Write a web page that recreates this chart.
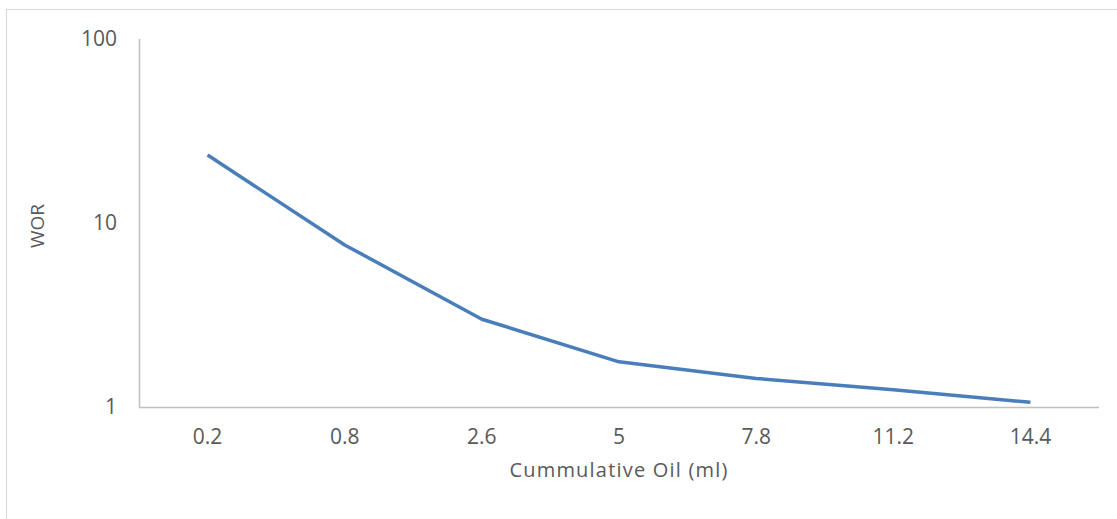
<!DOCTYPE html>
<html>
<head>
<meta charset="utf-8">
<script src="https://cdn.jsdelivr.net/npm/d3@7"></script>
<style>
  body { margin: 0; background: #fff; }
  text { font-family: 'Open Sans', 'Liberation Sans', sans-serif; fill: #595959; }
</style>
</head>
<body>
<div id="chart"></div>
<script>
const categories = ['0.2', '0.8', '2.6', '5', '7.8', '11.2', '14.4'];
const worValues = [23.4, 7.6, 3.0, 1.76, 1.43, 1.24, 1.06];
const yTicks = [1, 10, 100];

const WIDTH = 1117;
const HEIGHT = 519;
const margin = { top: 39, right: 18, bottom: 112, left: 139 };

const svg = d3
  .select('#chart')
  .append('svg')
  .attr('width', WIDTH)
  .attr('height', HEIGHT);

// chart area border (runs off the right and bottom edges)
svg
  .append('rect')
  .attr('x', 6.5)
  .attr('y', 9.5)
  .attr('width', WIDTH + 20)
  .attr('height', HEIGHT + 20)
  .attr('fill', 'none')
  .attr('stroke', '#d9d9d9');

const x = d3
  .scaleBand()
  .domain(categories)
  .range([margin.left, WIDTH - margin.right]);

const y = d3
  .scaleLog()
  .domain([1, 100])
  .range([HEIGHT - margin.bottom, margin.top]);

// axes lines
svg
  .append('line')
  .attr('x1', margin.left + 0.5)
  .attr('x2', margin.left + 0.5)
  .attr('y1', y(100))
  .attr('y2', y(1))
  .attr('stroke', '#bfbfbf')
  .attr('stroke-width', 1.5);

svg
  .append('line')
  .attr('x1', margin.left)
  .attr('x2', WIDTH - margin.right)
  .attr('y1', y(1) + 0.5)
  .attr('y2', y(1) + 0.5)
  .attr('stroke', '#bfbfbf')
  .attr('stroke-width', 1.5);

// y tick labels
svg
  .append('g')
  .selectAll('text')
  .data(yTicks)
  .enter()
  .append('text')
  .attr('x', margin.left - 22)
  .attr('y', (d) => y(d))
  .attr('dy', '0.35em')
  .attr('text-anchor', 'end')
  .attr('font-size', 21)
  .text((d) => d);

// x tick labels
svg
  .append('g')
  .selectAll('text')
  .data(categories)
  .enter()
  .append('text')
  .attr('x', (d) => x(d) + x.bandwidth() / 2)
  .attr('y', y(1) + 30)
  .attr('dy', '0.35em')
  .attr('text-anchor', 'middle')
  .attr('font-size', 21)
  .text((d) => d);

// axis titles
svg
  .append('text')
  .attr('x', (margin.left + WIDTH - margin.right) / 2)
  .attr('y', 470)
  .attr('dy', '0.35em')
  .attr('text-anchor', 'middle')
  .attr('font-size', 20)
  .attr('letter-spacing', 1.2)
  .text('Cummulative Oil (ml)');

svg
  .append('text')
  .attr('transform', 'translate(' + 37 + ',' + 226 + ') rotate(-90)')
  .attr('dy', '0.35em')
  .attr('text-anchor', 'middle')
  .attr('font-size', 19)
  .text('WOR');

// data line
const line = d3
  .line()
  .x((d, i) => x(categories[i]) + x.bandwidth() / 2)
  .y((d) => y(d));

svg
  .append('path')
  .datum(worValues)
  .attr('fill', 'none')
  .attr('stroke', '#4a7ebb')
  .attr('stroke-width', 3.5)
  .attr('stroke-linejoin', 'round')
  .attr('d', line);
</script>
</body>
</html>
